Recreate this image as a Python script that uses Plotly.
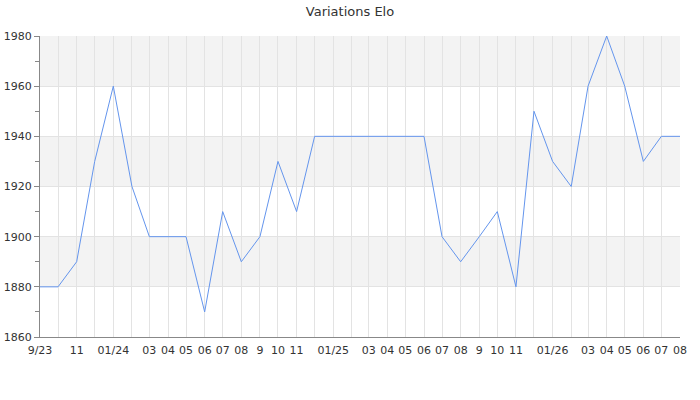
import pandas as pd
import plotly.graph_objects as go

# one point per month, 09/2023 .. 08/2026
months = pd.date_range("2023-09-01", periods=36, freq="MS")

elo = [1880, 1880, 1890, 1930, 1960, 1920, 1900, 1900, 1900, 1870, 1910, 1890,
       1900, 1930, 1910, 1940, 1940, 1940, 1940, 1940, 1940, 1940, 1900, 1890,
       1900, 1910, 1880, 1950, 1930, 1920, 1960, 1980, 1960, 1930, 1940, 1940]

tick_labels = ["9/23", "", "11", "", "01/24", "", "03", "04", "05", "06", "07", "08",
               "9", "10", "11", "", "01/25", "", "03", "04", "05", "06", "07", "08",
               "9", "10", "11", "", "01/26", "", "03", "04", "05", "06", "07", "08"]

bands = [(1880, 1900), (1920, 1940), (1960, 1980)]

fig = go.Figure()
fig.add_trace(go.Scatter(x=months, y=elo, mode="lines",
                         line=dict(color="#6495ED", width=1), hoverinfo="x+y"))

for lo, hi in bands:
    fig.add_shape(type="rect", xref="paper", yref="y", x0=0, x1=1, y0=lo, y1=hi,
                  fillcolor="#f3f3f3", line_width=0, layer="below")

fig.update_layout(
    width=700, height=400,
    title=dict(text="Variations Elo", x=0.5, xanchor="center", y=0.971, yanchor="middle",
               font=dict(size=13, color="#333"), automargin=False),
    font=dict(family="DejaVu Sans", size=11, color="#333"),
    paper_bgcolor="white", plot_bgcolor="white",
    margin=dict(l=40, r=20, t=36, b=63),
    showlegend=False,
)
fig.update_xaxes(
    range=[months[0], months[-1]],
    tickvals=months, ticktext=tick_labels, tickangle=0,
    showgrid=True, gridcolor="#e3e3e3", gridwidth=1,
    showline=True, linecolor="#888", linewidth=1,
    ticks="", ticklabelstandoff=3, zeroline=False, automargin=False,
)
fig.update_yaxes(
    range=[1860, 1980], dtick=20, tick0=1860,
    showgrid=True, gridcolor="#e3e3e3", gridwidth=1,
    showline=True, linecolor="#888", linewidth=1,
    ticks="outside", ticklen=5, tickcolor="#888",
    minor=dict(dtick=10, ticks="outside", ticklen=4, tickcolor="#888", showgrid=False),
    zeroline=False, automargin=False,
)

# drop the default 8px page margin so the figure sits at the window corner
fig.write_html("out.html", config={"displayModeBar": False},
               post_script="document.body.style.margin = '0';")
